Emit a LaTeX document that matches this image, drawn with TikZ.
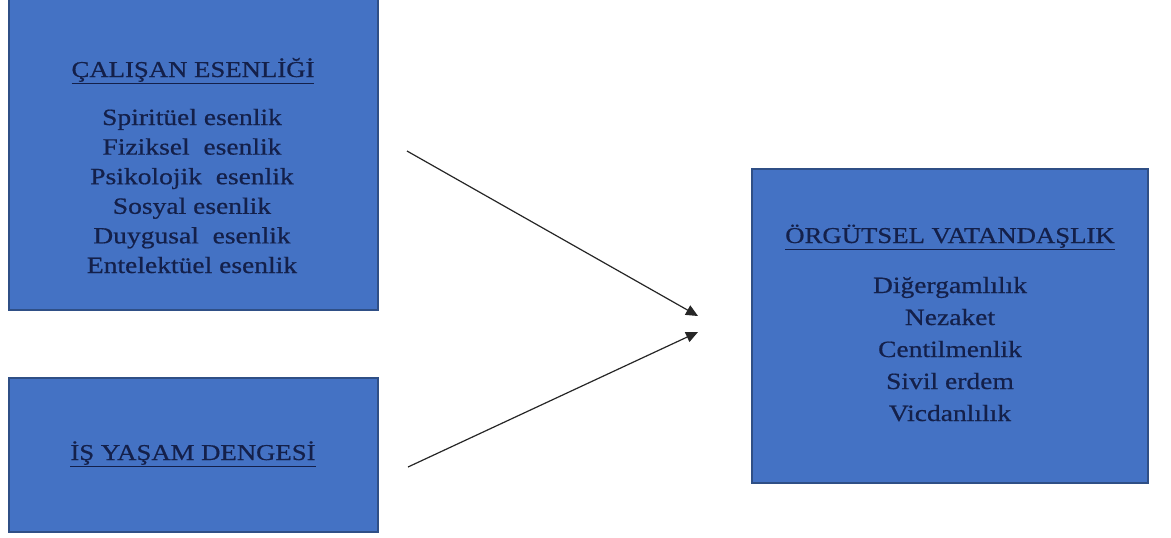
\documentclass[tikz,border=0pt]{standalone}
\usepackage{fontspec}
\setmainfont{Liberation Serif}[FakeStretch=1.15]
\newfontfamily\bodyfont{Liberation Serif}[FakeStretch=1.18,FakeBold=0.6]
\usetikzlibrary{arrows.meta}
\definecolor{boxfill}{HTML}{4472C4}
\definecolor{boxline}{HTML}{2F4F86}
\definecolor{txt}{HTML}{14204A}
\definecolor{arr}{HTML}{262626}
\tikzset{
  bx/.style={draw=boxline, line width=1.2pt, fill=boxfill, rectangle, inner sep=0pt},
  tx/.style={text=txt, font=\bodyfont\fontsize{17.5}{20}\selectfont, anchor=base, inner sep=0pt},
  ttl/.style={text=txt, font=\bodyfont\fontsize{17}{20}\selectfont, anchor=base, inner sep=0pt},
  conn/.style={draw=arr, line width=0.9pt, -{Triangle[length=9pt,width=8pt]}}
}
\begin{document}
\begin{tikzpicture}[x=0.75pt,y=-0.75pt]
\useasboundingbox (0,0) rectangle (1171,537);
\clip (0,0) rectangle (1171,537);
\fill[white] (0,0) rectangle (1171,537);
% boxes
\node[bx, minimum width=369*0.75pt, minimum height=314*0.75pt] (b1) at (193.5,153) {};
\node[bx, minimum width=369*0.75pt, minimum height=154*0.75pt] (b2) at (193.5,455) {};
\node[bx, minimum width=396*0.75pt, minimum height=314*0.75pt] (b3) at (950,326) {};
% box 1 text
\node[ttl] (t1) at (193,77) {\underline{ÇALIŞAN ESENLİĞİ}};
\node[tx] (t1a) at (192,125) {Spiritüel esenlik};
\node[tx] (t1b) at (192,154.6) {Fiziksel\ \ esenlik};
\node[tx] (t1c) at (192,184.2) {Psikolojik\ \ esenlik};
\node[tx] (t1d) at (192,213.8) {Sosyal esenlik};
\node[tx] (t1e) at (192,243.4) {Duygusal\ \ esenlik};
\node[tx] (t1f) at (192,273) {Entelektüel esenlik};
% box 2 text
\node[ttl] (t2) at (193,460) {\underline{İŞ YAŞAM DENGESİ}};
% box 3 text
\node[ttl] (t3) at (950,243) {\underline{ÖRGÜTSEL VATANDAŞLIK}};
\node[tx] (t3a) at (950,293) {Diğergamlılık};
\node[tx] (t3b) at (950,325) {Nezaket};
\node[tx] (t3c) at (950,357) {Centilmenlik};
\node[tx] (t3d) at (950,389) {Sivil erdem};
\node[tx] (t3e) at (950,421) {Vicdanlılık};
% arrows
\coordinate (a1s) at (407,151);
\coordinate (a1e) at (698,316);
\coordinate (a2s) at (408,467);
\coordinate (a2e) at (698,332);
\draw[conn] (a1s) -- (a1e);
\draw[conn] (a2s) -- (a2e);
\end{tikzpicture}
\end{document}
